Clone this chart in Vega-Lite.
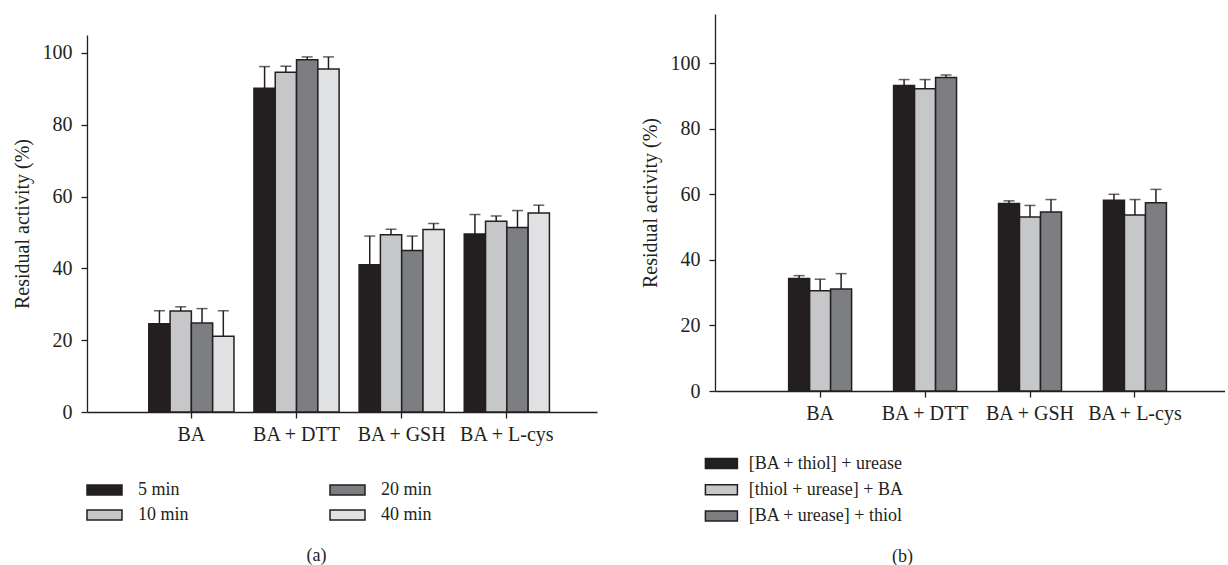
{
  "$schema": "https://vega.github.io/schema/vega-lite/v6.json",
  "background": "white",
  "padding": {"left": 12, "top": 11, "right": 0, "bottom": 0},
  "spacing": 43,
  "config": {
    "font": "Liberation Serif",
    "view": {"stroke": null},
    "axis": {
      "domainColor": "#231f20", "domainWidth": 1.3,
      "tickColor": "#231f20", "tickWidth": 1.3, "tickSize": 6,
      "labelColor": "#231f20", "labelFontSize": 20, "labelFont": "Liberation Serif",
      "titleColor": "#231f20", "titleFontSize": 20, "titleFontWeight": "normal", "titleFont": "Liberation Serif",
      "grid": false
    },
    "legend": {
      "labelFontSize": 18, "labelColor": "#231f20", "labelFont": "Liberation Serif",
      "symbolStrokeColor": "#231f20", "symbolStrokeWidth": 1.5, "symbolOpacity": 1, "symbolSize": 100,
      "padding": 0
    }
  },
  "resolve": {"scale": {"color": "independent", "y": "independent", "x": "independent", "xOffset": "independent"}},
  "hconcat": [
    {
      "spacing": 17,
      "vconcat": [
        {
          "width": 510,
          "height": 1,
          "data": {"values": [{"spacer": 1}]},
          "mark": {"type": "point", "opacity": 0},
          "encoding": {}
        },
        {
          "width": 510,
          "height": 377,
          "data": {"values": [
            {"group": "BA", "time": "5 min", "value": 24.6, "upper": 28.2},
            {"group": "BA", "time": "10 min", "value": 28.1, "upper": 29.3},
            {"group": "BA", "time": "20 min", "value": 24.8, "upper": 28.8},
            {"group": "BA", "time": "40 min", "value": 21.1, "upper": 28.2},
            {"group": "BA + DTT", "time": "5 min", "value": 90.2, "upper": 96.2},
            {"group": "BA + DTT", "time": "10 min", "value": 94.6, "upper": 96.3},
            {"group": "BA + DTT", "time": "20 min", "value": 98.1, "upper": 98.9},
            {"group": "BA + DTT", "time": "40 min", "value": 95.5, "upper": 98.9},
            {"group": "BA + GSH", "time": "5 min", "value": 41.0, "upper": 49.0},
            {"group": "BA + GSH", "time": "10 min", "value": 49.4, "upper": 50.9},
            {"group": "BA + GSH", "time": "20 min", "value": 45.0, "upper": 49.0},
            {"group": "BA + GSH", "time": "40 min", "value": 50.8, "upper": 52.5},
            {"group": "BA + L-cys", "time": "5 min", "value": 49.6, "upper": 55.0},
            {"group": "BA + L-cys", "time": "10 min", "value": 53.1, "upper": 54.6},
            {"group": "BA + L-cys", "time": "20 min", "value": 51.4, "upper": 56.1},
            {"group": "BA + L-cys", "time": "40 min", "value": 55.4, "upper": 57.6}
          ]},
          "encoding": {
            "x": {
              "field": "group", "type": "nominal",
              "sort": ["BA", "BA + DTT", "BA + GSH", "BA + L-cys"],
              "scale": {"paddingInner": 0.19, "paddingOuter": 0.52, "align": 0.565},
              "axis": {"labelAngle": 0, "labelPadding": 6, "title": "(a)", "titleX": 229, "titleY": 134, "titleBaseline": "top", "titleFontSize": 18}
            },
            "xOffset": {
              "field": "time", "type": "nominal",
              "sort": ["5 min", "10 min", "20 min", "40 min"],
              "scale": {"paddingInner": 0, "paddingOuter": 0}
            }
          },
          "layer": [
            {
              "mark": {"type": "bar", "stroke": "#231f20", "strokeWidth": 1.5},
              "encoding": {
                "y": {"field": "value", "type": "quantitative", "scale": {"domain": [0, 105], "nice": false},
                      "axis": {"values": [0, 20, 40, 60, 80, 100], "labelPadding": 9, "titlePadding": 10, "title": "Residual activity (%)"}},
                "color": {
                  "field": "time", "type": "nominal",
                  "scale": {"domain": ["5 min", "10 min", "20 min", "40 min"], "range": ["#231f20", "#c6c7c9", "#7d7e82", "#e0e1e3"]},
                  "legend": {"orient": "none", "legendX": 8.5, "legendY": 467, "columns": 2, "title": null,
                             "symbolType": "M-3.5,-1H3.5V1H-3.5Z", "labelOffset": 24.5, "rowPadding": 7, "columnPadding": 137}
                }
              }
            },
            {
              "mark": {"type": "rule", "color": "#231f20", "strokeWidth": 1.5},
              "encoding": {
                "y": {"field": "value", "type": "quantitative", "title": "Residual activity (%)"},
                "y2": {"field": "upper"}
              }
            },
            {
              "mark": {"type": "tick", "color": "#231f20", "thickness": 1.5, "size": 11},
              "encoding": {
                "y": {"field": "upper", "type": "quantitative", "title": "Residual activity (%)"}
              }
            }
          ]
        }
      ]
    },
    {
      "width": 510,
      "height": 377,
      "data": {"values": [
        {"group": "BA", "order": "[BA + thiol] + urease", "value": 34.3, "upper": 35.2},
        {"group": "BA", "order": "[thiol + urease] + BA", "value": 30.6, "upper": 34.1},
        {"group": "BA", "order": "[BA + urease] + thiol", "value": 31.1, "upper": 35.8},
        {"group": "BA + DTT", "order": "[BA + thiol] + urease", "value": 93.2, "upper": 95.0},
        {"group": "BA + DTT", "order": "[thiol + urease] + BA", "value": 92.2, "upper": 95.0},
        {"group": "BA + DTT", "order": "[BA + urease] + thiol", "value": 95.6, "upper": 96.4},
        {"group": "BA + GSH", "order": "[BA + thiol] + urease", "value": 57.2, "upper": 58.0},
        {"group": "BA + GSH", "order": "[thiol + urease] + BA", "value": 53.1, "upper": 56.6},
        {"group": "BA + GSH", "order": "[BA + urease] + thiol", "value": 54.6, "upper": 58.4},
        {"group": "BA + L-cys", "order": "[BA + thiol] + urease", "value": 58.2, "upper": 60.0},
        {"group": "BA + L-cys", "order": "[thiol + urease] + BA", "value": 53.7, "upper": 58.4},
        {"group": "BA + L-cys", "order": "[BA + urease] + thiol", "value": 57.4, "upper": 61.5}
      ]},
      "encoding": {
        "x": {
          "field": "group", "type": "nominal",
          "sort": ["BA", "BA + DTT", "BA + GSH", "BA + L-cys"],
          "scale": {"paddingInner": 0.4, "paddingOuter": 0.63, "align": 0.557},
          "axis": {"labelAngle": 0, "labelPadding": 6, "title": "(b)", "titleX": 187, "titleY": 156, "titleBaseline": "top", "titleFontSize": 18}
        },
        "xOffset": {
          "field": "order", "type": "nominal",
          "sort": ["[BA + thiol] + urease", "[thiol + urease] + BA", "[BA + urease] + thiol"],
          "scale": {"paddingInner": 0, "paddingOuter": 0}
        }
      },
      "layer": [
        {
          "mark": {"type": "bar", "stroke": "#231f20", "strokeWidth": 1.5},
          "encoding": {
            "y": {"field": "value", "type": "quantitative", "scale": {"domain": [0, 115], "nice": false},
                  "axis": {"values": [0, 20, 40, 60, 80, 100], "labelPadding": 9, "titlePadding": 10, "title": "Residual activity (%)"}},
            "color": {
              "field": "order", "type": "nominal",
              "scale": {"domain": ["[BA + thiol] + urease", "[thiol + urease] + BA", "[BA + urease] + thiol"], "range": ["#231f20", "#c6c7c9", "#7d7e82"]},
              "legend": {"orient": "none", "legendX": -2.6, "legendY": 440.5, "title": null,
                         "symbolType": "M-3.2,-1H3.2V1H-3.2Z", "labelOffset": 18.3, "rowPadding": 8.2}
            }
          }
        },
        {
          "mark": {"type": "rule", "color": "#231f20", "strokeWidth": 1.5},
          "encoding": {
            "y": {"field": "value", "type": "quantitative", "title": "Residual activity (%)"},
            "y2": {"field": "upper"}
          }
        },
        {
          "mark": {"type": "tick", "color": "#231f20", "thickness": 1.5, "size": 11},
          "encoding": {
            "y": {"field": "upper", "type": "quantitative", "title": "Residual activity (%)"}
          }
        }
      ]
    }
  ]
}
